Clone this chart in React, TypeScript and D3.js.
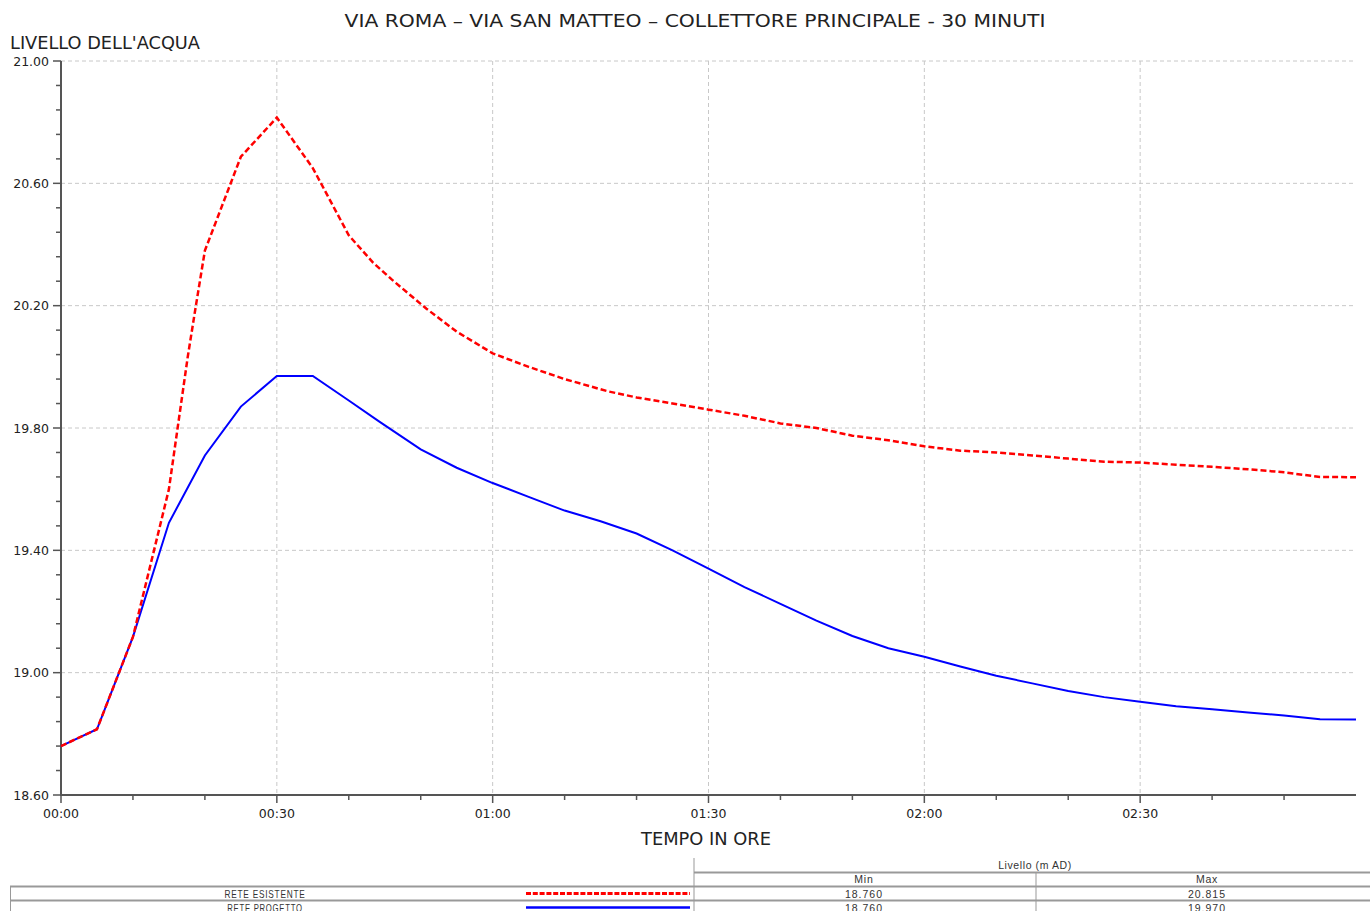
import React from "react";
import * as d3 from "d3";

const TITLE = "VIA ROMA – VIA SAN MATTEO – COLLETTORE PRINCIPALE - 30 MINUTI";
const Y_LABEL = "LIVELLO DELL'ACQUA";
const X_LABEL = "TEMPO IN ORE";

// time in minutes, level in m AD
const esistenteT = [0, 5, 10, 15, 17.6, 18.75, 20, 25, 30, 35, 40, 43.4, 46, 50.8, 55, 60, 65, 70, 76, 80, 85, 90, 95, 100, 105, 110, 115, 120, 125, 130, 135, 140, 145, 150, 155, 160, 165, 170, 175, 180];
const esistenteV = [18.76, 18.815, 19.117, 19.6, 20.03, 20.2, 20.38, 20.687, 20.815, 20.65, 20.43, 20.34, 20.285, 20.19, 20.115, 20.044, 20.0, 19.96, 19.92, 19.9, 19.88, 19.86, 19.84, 19.815, 19.8, 19.775, 19.76, 19.74, 19.726, 19.72, 19.71, 19.7, 19.69, 19.687, 19.68, 19.673, 19.665, 19.655, 19.64, 19.639];

const progettoT = [0, 5, 10, 15, 20, 25, 30, 35, 40, 44.3, 50, 55, 60, 65, 70, 75, 80, 85, 90, 95, 100, 105, 110, 115, 120, 125, 130, 135, 140, 145, 150, 155, 160, 165, 170, 175, 180];
const progettoV = [18.76, 18.815, 19.117, 19.49, 19.71, 19.87, 19.97, 19.97, 19.89, 19.82, 19.73, 19.67, 19.62, 19.575, 19.53, 19.495, 19.455, 19.4, 19.34, 19.28, 19.225, 19.17, 19.12, 19.08, 19.052, 19.02, 18.99, 18.965, 18.94, 18.92, 18.905, 18.89, 18.88, 18.87, 18.86, 18.848, 18.847];

const yMajorTicks = [18.6, 19.0, 19.4, 19.8, 20.2, 20.6, 21.0];
const xMajorTicks = [0, 30, 60, 90, 120, 150];
const xTickLabels = ["00:00", "00:30", "01:00", "01:30", "02:00", "02:30"];

const seriesNames = ["RETE ESISTENTE", "RETE PROGETTO"];
const seriesMin = ["18.760", "18.760"];
const seriesMax = ["20.815", "19.970"];
const tableHeader = "Livello (m AD)";
const colHeaders = ["Min", "Max"];

const FONT = "'DejaVu Sans', Verdana, sans-serif";
const TFONT = "'Liberation Sans', Arial, sans-serif";

export default function App() {
  const left = 61, right = 1356, top = 61, bottom = 795;
  const x = d3.scaleLinear().domain([0, 180]).range([left, right]);
  const y = d3.scaleLinear().domain([18.6, 21]).range([bottom, top]);

  const yMinor = d3.range(0, 31).map((i) => 18.6 + i * 0.08);
  const xMinor = d3.range(0, 180, 10);

  const line = d3
    .line<[number, number]>()
    .x((d) => x(d[0]))
    .y((d) => y(d[1]));

  const redData: [number, number][] = esistenteT.map((t, i) => [t, esistenteV[i]]);
  const blueData: [number, number][] = progettoT.map((t, i) => [t, progettoV[i]]);

  const colors = ["#ff0000", "#0000ff"];

  return (
    <svg
      width={1370}
      height={911}
      style={{ position: "absolute", left: 0, top: 0, background: "#fff" }}
    >
      {/* grid */}
      {yMajorTicks.slice(1).map((v) => (
        <line key={"gy" + v} x1={left} x2={right} y1={y(v)} y2={y(v)} stroke="#c8c8c8" strokeWidth={1} strokeDasharray="4,3" />
      ))}
      {xMajorTicks.slice(1).map((v) => (
        <line key={"gx" + v} x1={x(v)} x2={x(v)} y1={top} y2={bottom} stroke="#c8c8c8" strokeWidth={1} strokeDasharray="4,3" />
      ))}

      {/* axes */}
      <line x1={left} x2={left} y1={top} y2={bottom + 1} stroke="#555" strokeWidth={2} />
      <line x1={left - 1} x2={right} y1={bottom} y2={bottom} stroke="#555" strokeWidth={2} />
      {yMinor.map((v, i) => {
        const major = i % 5 === 0;
        return (
          <line key={"ty" + i} x1={left - (major ? 8 : 5)} x2={left} y1={y(v)} y2={y(v)} stroke="#555" strokeWidth={1.5} />
        );
      })}
      {xMinor.map((v) => {
        const major = v % 30 === 0;
        return (
          <line key={"tx" + v} x1={x(v)} x2={x(v)} y1={bottom} y2={bottom + (major ? 8 : 5)} stroke="#555" strokeWidth={1.5} />
        );
      })}
      {yMajorTicks.map((v) => (
        <text key={"ly" + v} x={49} y={y(v) + 4.5} textAnchor="end" fontFamily={FONT} fontSize={12.5} fill="#222">
          {v.toFixed(2)}
        </text>
      ))}
      {xMajorTicks.map((v, i) => (
        <text key={"lx" + v} x={x(v)} y={818} textAnchor="middle" fontFamily={FONT} fontSize={12.5} fill="#222">
          {xTickLabels[i]}
        </text>
      ))}

      {/* series */}
      <path d={line(blueData) || ""} fill="none" stroke={colors[1]} strokeWidth={2} />
      <path d={line(redData) || ""} fill="none" stroke={colors[0]} strokeWidth={2.5} strokeDasharray="6,3" />

      {/* titles */}
      <text x={695} y={27} textAnchor="middle" fontFamily={FONT} fontSize={18} fill="#222" textLength={701} lengthAdjust="spacingAndGlyphs">
        {TITLE}
      </text>
      <text x={10} y={49} fontFamily={FONT} fontSize={18} fill="#222" textLength={190} lengthAdjust="spacingAndGlyphs">
        {Y_LABEL}
      </text>
      <text x={706} y={845} textAnchor="middle" fontFamily={FONT} fontSize={18} fill="#222" textLength={130} lengthAdjust="spacingAndGlyphs">
        {X_LABEL}
      </text>

      {/* legend table */}
      <g fontFamily={TFONT} fontSize={10.5} fill="#333">
        <line x1={694} x2={694} y1={858} y2={911} stroke="#999" strokeWidth={1} />
        <line x1={1036} x2={1036} y1={872} y2={911} stroke="#999" strokeWidth={1} />
        <line x1={694} x2={1370} y1={872.5} y2={872.5} stroke="#999" strokeWidth={2} />
        <line x1={10} x2={1370} y1={886.5} y2={886.5} stroke="#999" strokeWidth={2} />
        <line x1={10} x2={1370} y1={900.5} y2={900.5} stroke="#999" strokeWidth={2} />
        <line x1={10.5} x2={10.5} y1={886} y2={911} stroke="#999" strokeWidth={1} />
        <text x={1035} y={868.5} textAnchor="middle" letterSpacing={0.6}>{tableHeader}</text>
        <text x={864} y={883} textAnchor="middle" letterSpacing={0.8}>{colHeaders[0]}</text>
        <text x={1207} y={883} textAnchor="middle" letterSpacing={0.8}>{colHeaders[1]}</text>
        {seriesNames.map((n, i) => {
          const ry = 897.5 + i * 14;
          return (
            <g key={n}>
              <text x={265} y={ry} textAnchor="middle" textLength={n.length * 5.8} lengthAdjust="spacingAndGlyphs" letterSpacing={1}>{n}</text>
              <line x1={526} x2={690} y1={ry - 4} y2={ry - 4} stroke={colors[i]} strokeWidth={i === 0 ? 3 : 2.5} strokeDasharray={i === 0 ? "5,1.8" : undefined} />
              <text x={864} y={ry} textAnchor="middle" letterSpacing={1}>{seriesMin[i]}</text>
              <text x={1207} y={ry} textAnchor="middle" letterSpacing={1}>{seriesMax[i]}</text>
            </g>
          );
        })}
      </g>
    </svg>
  );
}
